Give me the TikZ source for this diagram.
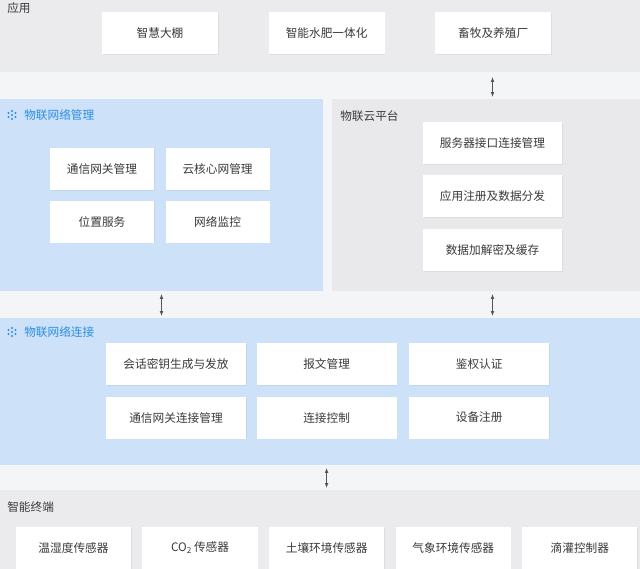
\documentclass[tikz,border=0pt]{standalone}
\usepackage{fontspec}
\setmainfont{Noto Sans CJK SC}
\usetikzlibrary{arrows.meta, positioning, shadows, fit}

\definecolor{stripgray}{HTML}{F4F5F7}
\definecolor{bandgray}{HTML}{EBEBED}
\definecolor{panelblue}{HTML}{CDE1F8}
\definecolor{panelgray}{HTML}{E9E9EB}
\definecolor{titleblue}{HTML}{2B8FE3}
\definecolor{textdark}{HTML}{3A3A3A}
\definecolor{arrowgray}{HTML}{555555}

\begin{document}
\begin{tikzpicture}[
    x=0.025cm, y=-0.025cm,
    font=\fontsize{8.3}{10}\selectfont,
    panel/.style = {inner sep=0, outer sep=0, draw=none},
    box/.style = {rectangle, fill=white, text=textdark, minimum height=1.05cm, align=center, inner sep=1pt, drop shadow={shadow xshift=0.4pt, shadow yshift=-0.6pt, opacity=0.12}},
    appbox/.style = {box, minimum width=2.9cm},
    mgmtbox/.style = {box, minimum width=2.6cm},
    cloudbox/.style = {box, minimum width=3.475cm},
    connbox/.style = {box, minimum width=3.5cm},
    termbox/.style = {box, minimum width=2.88cm},
    title/.style = {anchor=west, inner sep=0, text=textdark},
    bluetitle/.style = {title, text=titleblue},
    line/.style = {{Latex[length=3.5pt,width=2.6pt]}-{Latex[length=3.5pt,width=2.6pt]}, draw=arrowgray, line width=0.5pt}
]
    \useasboundingbox (0,0) rectangle (640,569);
    \clip (0,0) rectangle (640,569);

    % Panels
    \fill [stripgray] (0,0) rectangle (640,569);
    \node [panel, fill=bandgray, fit={(0,0) (640,72)}] (appband) {};
    \node [panel, fill=panelblue, fit={(0,99) (323,291)}] (mgmtpanel) {};
    \node [panel, fill=panelgray, fit={(332,99) (640,291)}] (cloudpanel) {};
    \node [panel, fill=panelblue, fit={(0,318) (640,465)}] (connpanel) {};
    \node [panel, fill=bandgray, fit={(0,490) (640,569)}] (termband) {};

    % Titles
    \node [title] (apptitle) at (7,8) {应用};
    \node [bluetitle] (mgmttitle) at (24,115) {物联网络管理};
    \node [title] (cloudtitle) at (340,116) {物联云平台};
    \node [bluetitle] (conntitle) at (24,332) {物联网络连接};
    \node [title] (termtitle) at (7,507) {智能终端};
    \coordinate (mgmticon) at (12,115);
    \coordinate (connicon) at (12,332);
    \foreach \ic in {mgmticon, connicon}
        \foreach \dx/\dy in {-3.5/-2, -3.5/2, 0/-4, 0/0, 0/4, 3.5/-2, 3.5/2}
            \fill [titleblue] ([shift={(\dx,\dy)}]\ic) circle (0.8pt);

    % Application
    \node [appbox] (app1) at (160,33) {智慧大棚};
    \node [appbox, right=1.25cm of app1] (app2) {智能水肥一体化};
    \node [appbox, right=1.25cm of app2] (app3) {畜牧及养殖厂};

    % Network management
    \node [mgmtbox] (mgmt1) at (102,169) {通信网关管理};
    \node [mgmtbox, right=0.275cm of mgmt1] (mgmt2) {云核心网管理};
    \node [mgmtbox, below=0.25cm of mgmt1] (mgmt3) {位置服务};
    \node [mgmtbox, right=0.275cm of mgmt3] (mgmt4) {网络监控};

    % Cloud platform
    \node [cloudbox] (cloud1) at (492.5,143) {服务器接口连接管理};
    \node [cloudbox, below=0.27cm of cloud1] (cloud2) {应用注册及数据分发};
    \node [cloudbox, below=0.27cm of cloud2] (cloud3) {数据加解密及缓存};

    % Network connection
    \node [connbox] (conn1) at (176,364) {会话密钥生成与发放};
    \node [connbox, right=0.25cm of conn1] (conn2) {报文管理};
    \node [connbox, right=0.3cm of conn2] (conn3) {鉴权认证};
    \node [connbox, below=0.275cm of conn1] (conn4) {通信网关连接管理};
    \node [connbox, below=0.275cm of conn2] (conn5) {连接控制};
    \node [connbox, below=0.275cm of conn3] (conn6) {设备注册};

    % Terminals
    \node [termbox] (term1) at (73.5,548) {温湿度传感器};
    \node [termbox, right=0.27cm of term1] (term2) {CO\textsubscript{2}\,传感器};
    \node [termbox, right=0.27cm of term2] (term3) {土壤环境传感器};
    \node [termbox, right=0.27cm of term3] (term4) {气象环境传感器};
    \node [termbox, right=0.27cm of term4] (term5) {滴灌控制器};

    % Edges
    \draw [line, shorten <=0.125cm, shorten >=0.05cm] (appband.south -| cloud1) -- (cloudpanel.north -| cloud1);
    \draw [line, shorten <=0.075cm, shorten >=0.05cm] (mgmtpanel.south) -- (connpanel.north -| mgmtpanel.south);
    \draw [line, shorten <=0.075cm, shorten >=0.05cm] (cloudpanel.south -| cloud3) -- (connpanel.north -| cloud3);
    \draw [line, shorten <=0.075cm, shorten >=0.05cm] (connpanel.south -| conn2) -- (termband.north -| conn2);

\end{tikzpicture}
\end{document}
